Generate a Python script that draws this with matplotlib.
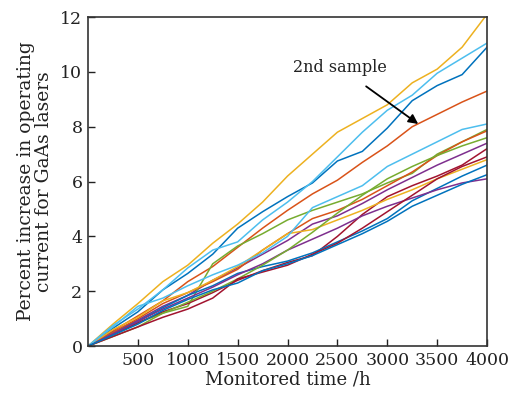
import numpy as np
from matplotlib import pyplot as plt

hours = [0, 250, 500, 750, 1000, 1250, 1500, 1750, 2000, 2250, 2500, 2750, 3000, 3250, 3500, 3750, 4000]

# percent increase, one list per laser (MATLAB colour order)
blue_a = [0, 0.65, 1.25, 2.05, 2.65, 3.35, 4.3, 4.9, 5.45, 5.95, 6.75, 7.1, 7.95, 8.95, 9.5, 9.9, 10.9]
orange_a = [0, 0.55, 1.1, 1.65, 2.35, 2.9, 3.6, 4.3, 4.95, 5.55, 6.05, 6.7, 7.3, 8.0, 8.45, 8.9, 9.3]
yellow_a = [0, 0.8, 1.55, 2.35, 2.95, 3.75, 4.45, 5.25, 6.2, 7.0, 7.8, 8.3, 8.8, 9.6, 10.1, 10.9, 12.1]
purple_a = [0, 0.5, 0.95, 1.45, 1.85, 2.4, 2.85, 3.35, 3.85, 4.45, 4.75, 5.2, 5.7, 6.15, 6.6, 7.0, 7.4]
green_a = [0, 0.45, 0.85, 1.2, 1.45, 3.0, 3.65, 4.1, 4.6, 4.95, 5.25, 5.55, 5.95, 6.3, 7.0, 7.45, 7.9]
lblue_a = [0, 0.75, 1.35, 2.05, 2.85, 3.5, 3.8, 4.6, 5.25, 6.0, 6.9, 7.8, 8.6, 9.15, 9.95, 10.5, 11.05]
dred_a = [0, 0.4, 0.85, 1.25, 1.55, 1.95, 2.4, 2.75, 3.05, 3.3, 4.0, 4.8, 5.45, 5.85, 6.2, 6.6, 7.2]
blue_b = [0, 0.5, 0.9, 1.4, 1.85, 2.2, 2.65, 2.9, 3.1, 3.4, 3.8, 4.2, 4.65, 5.3, 5.75, 6.2, 6.6]
orange_b = [0, 0.5, 1.0, 1.55, 1.95, 2.35, 2.8, 3.5, 4.1, 4.65, 4.95, 5.35, 5.85, 6.35, 6.95, 7.45, 7.85]
yellow_b = [0, 0.6, 1.05, 1.65, 1.95, 2.4, 2.9, 3.5, 4.1, 4.25, 4.6, 4.95, 5.35, 5.7, 6.1, 6.45, 6.8]
purple_b = [0, 0.45, 0.9, 1.35, 1.75, 2.15, 2.6, 3.0, 3.5, 3.9, 4.3, 4.75, 5.1, 5.4, 5.7, 5.95, 6.1]
green_b = [0, 0.35, 0.7, 1.2, 1.6, 2.0, 2.45, 2.95, 3.5, 4.15, 4.85, 5.5, 6.1, 6.55, 6.95, 7.3, 7.6]
lblue_b = [0, 0.7, 1.45, 1.75, 2.2, 2.6, 2.95, 3.4, 4.0, 5.05, 5.45, 5.85, 6.55, 7.0, 7.45, 7.9, 8.1]
dred_b = [0, 0.35, 0.7, 1.05, 1.35, 1.75, 2.45, 2.7, 2.95, 3.35, 3.75, 4.3, 4.9, 5.5, 6.1, 6.55, 6.9]
blue_c = [0, 0.4, 0.8, 1.3, 1.7, 2.05, 2.3, 2.75, 3.0, 3.3, 3.7, 4.1, 4.55, 5.1, 5.5, 5.9, 6.25]

series = [blue_a, orange_a, yellow_a, purple_a, green_a, lblue_a, dred_a,
          blue_b, orange_b, yellow_b, purple_b, green_b, lblue_b, dred_b, blue_c]
colors = ['#0072BD', '#D95319', '#EDB120', '#7E2F8E', '#77AC30', '#4DBEEE', '#A2142F']

plt.rcParams['font.family'] = 'DejaVu Serif'

fig = plt.figure(figsize=(5.1, 3.96), dpi=100)
ax = fig.add_axes([0.1725, 0.126, 0.7825, 0.831])

for i, s in enumerate(series):
    ax.plot(hours, s, color=colors[i % 7], lw=1.1)

ax.set_xlim(0, 4000)
ax.set_ylim(0, 12)
ax.set_xticks([500, 1000, 1500, 2000, 2500, 3000, 3500, 4000])
ax.set_yticks([0, 2, 4, 6, 8, 10, 12])
ax.tick_params(direction='in', length=5, width=1, labelsize=12.5, colors='#222222', pad=4)
for sp in ax.spines.values():
    sp.set_linewidth(1.2)
    sp.set_color('#333333')

ax.set_xlabel('Monitored time /h', fontsize=13, color='#222222', labelpad=1)
ax.set_ylabel('Percent increase in operating\ncurrent for GaAs lasers', fontsize=13.5,
              color='#222222', linespacing=1.0, labelpad=5)

ax.annotate('2nd sample', xy=(3310, 8.1), xytext=(2530, 10.15), fontsize=11.5,
            ha='center', va='center', color='#222222',
            arrowprops=dict(arrowstyle='-|>', color='black', lw=1.3, mutation_scale=14,
                            shrinkA=9, shrinkB=0))

fig.savefig('out.png', dpi=100)
